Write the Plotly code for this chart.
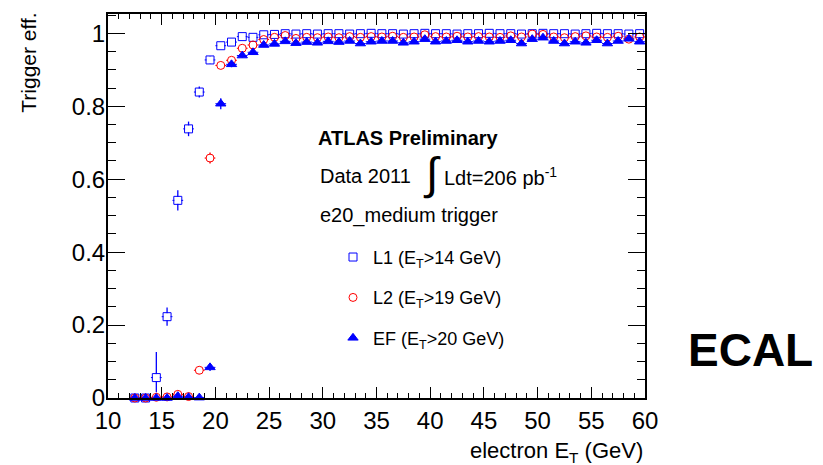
import plotly.graph_objects as go

# ---- data ----
et_bins = [12.5 + i for i in range(48)]  # 12.5 ... 59.5 GeV

l1_eff = [0.0, 0.0, 0.056, 0.223, 0.542, 0.738, 0.839, 0.927, 0.966, 0.976,
          0.991, 0.989, 0.996,
          0.997, 0.999, 0.998, 0.999, 0.998, 0.999, 0.999, 0.998, 0.999, 1.0,
          0.999, 0.999, 0.998, 0.999, 1.0, 0.999, 0.999, 0.998, 0.999, 0.999,
          1.0, 0.999, 0.999, 0.998, 0.999, 1.0, 0.999, 0.999, 0.998, 0.999,
          1.0, 0.999, 0.999, 0.998, 0.999]
l1_err_up = [0.003, 0.003, 0.070, 0.025, 0.028, 0.020, 0.015, 0.010, 0.006, 0.005,
             0.004, 0.004, 0.003] + [0.002] * 35
l1_err_dn = [0.0, 0.0, 0.040, 0.025, 0.028, 0.020, 0.015, 0.010, 0.006, 0.005,
             0.004, 0.004, 0.003] + [0.002] * 35

l2_eff = [0.0, 0.0, 0.002, 0.003, 0.010, 0.004, 0.076, 0.658, 0.912, 0.926,
          0.959, 0.968, 0.983, 0.989, 0.994,
          0.986, 0.989, 0.988, 0.990, 0.988, 0.991,
          0.989, 0.991, 0.990, 0.992, 0.989, 0.990, 0.996, 0.991, 0.990, 0.992,
          0.990, 0.991, 0.990, 0.989, 0.993, 0.990, 0.998, 0.997, 0.990, 0.988,
          0.991, 0.993, 0.990, 0.989, 0.992, 0.984, 0.990]
l2_err = [0.003, 0.003, 0.003, 0.003, 0.005, 0.004, 0.010, 0.015, 0.008, 0.008,
          0.006, 0.005, 0.004, 0.004, 0.003] + [0.003] * 33

ef_eff = [0.0, 0.0, 0.0, 0.0, 0.005, 0.002, 0.001, 0.084, 0.807, 0.915,
          0.939, 0.948, 0.968, 0.971, 0.978,
          0.973, 0.976, 0.974, 0.978, 0.976, 0.979,
          0.972, 0.977, 0.979, 0.979, 0.974, 0.977, 0.984, 0.977, 0.979, 0.981,
          0.977, 0.979, 0.977, 0.979, 0.981, 0.972, 0.984, 0.988, 0.979, 0.972,
          0.977, 0.974, 0.981, 0.972, 0.979, 0.985, 0.977]
ef_err = [0.003, 0.003, 0.003, 0.003, 0.004, 0.003, 0.003, 0.010, 0.015, 0.008,
          0.006, 0.006, 0.005, 0.004, 0.004] + [0.004] * 33

bin_half = [0.5] * 48

x_range = [10, 60]
y_range = [0, 1.053]

# ---- layout geometry (pixels) ----
W, H = 823, 465
ML, MR, MT, MB = 108, 178, 12, 67
PW = W - ML - MR
PH = H - MT - MB


def px(x):
    return (x - ML) / PW


def py(y):
    return (H - MB - y) / PH


FONT = "Liberation Sans, Arial, sans-serif"
BLUE = "#0000ff"
RED = "#ff0000"

series = [
    dict(name="L1 (E<sub>T</sub>>14 GeV)", y=l1_eff, up=l1_err_up, dn=l1_err_dn,
         open_sym="square-open", fill_sym="square", color=BLUE, size=8, g="a"),
    dict(name="L2 (E<sub>T</sub>>19 GeV)", y=l2_eff, up=l2_err, dn=l2_err,
         open_sym="circle-open", fill_sym="circle", color=RED, size=8, g="b"),
    dict(name="EF (E<sub>T</sub>>20 GeV)", y=ef_eff, up=ef_err, dn=ef_err,
         open_sym="triangle-up", fill_sym=None, color=BLUE, size=9, g="c"),
]

fig = go.Figure()

# layer 1: error bars only
for s in series:
    fig.add_trace(go.Scatter(
        x=et_bins, y=s["y"], mode="markers", showlegend=False,
        hoverinfo="skip", cliponaxis=False,
        marker=dict(size=1, color="rgba(0,0,0,0)"),
        error_x=dict(type="data", array=bin_half, color=s["color"],
                     thickness=1, width=0),
        error_y=dict(type="data", array=s["up"], arrayminus=s["dn"],
                     symmetric=False, color=s["color"], thickness=1.3, width=0),
    ))

# layer 2: white masks so error lines do not cross hollow markers
for s in series:
    if s["fill_sym"] is None:
        continue
    fig.add_trace(go.Scatter(
        x=et_bins, y=s["y"], mode="markers", showlegend=False,
        hoverinfo="skip", cliponaxis=False,
        marker=dict(symbol=s["fill_sym"], color="white", size=s["size"] - 1,
                    line=dict(width=0)),
    ))

# layer 3: visible markers (with legend)
for s in series:
    fig.add_trace(go.Scatter(
        x=et_bins, y=s["y"], mode="markers", name=s["name"],
        legendgroup=s["g"], cliponaxis=False,
        marker=dict(symbol=s["open_sym"], color=s["color"], size=s["size"],
                    line=dict(color=s["color"], width=1)),
    ))

axis_common = dict(
    showgrid=False, zeroline=False, showline=True, linewidth=2,
    linecolor="black", mirror="ticks", ticks="inside", tickcolor="black",
    tickwidth=1, tickfont=dict(family=FONT, size=24, color="black"),
)

fig.update_xaxes(range=x_range, dtick=5, tick0=10, ticklen=11,
                 minor=dict(dtick=1, ticklen=5, ticks="inside",
                            tickcolor="black", tickwidth=1),
                 **axis_common)
fig.update_yaxes(range=y_range, dtick=0.2, tick0=0, ticklen=17,
                 ticklabelstandoff=-4,
                 minor=dict(dtick=0.05, ticklen=8, ticks="inside",
                            tickcolor="black", tickwidth=1),
                 **axis_common)

ann = []


def text(x, y, s, size, xanchor="left", yanchor="middle", angle=0):
    ann.append(dict(
        x=px(x), y=py(y), xref="paper", yref="paper", text=s,
        showarrow=False, xanchor=xanchor, yanchor=yanchor, textangle=angle,
        font=dict(family=FONT, size=size, color="black"),
    ))


text(316, 137, "<b>ATLAS Preliminary</b>", 20)
text(318, 175, "Data 2011", 20)
text(421, 172, "∫", 45)
text(442, 175, "Ldt=206 pb<sup>-1</sup>", 20)
text(318, 215, "e20_medium trigger", 20)
text(750, 350, "<b>ECAL</b>", 46, xanchor="center")
text(645, 452, "electron E<sub>T</sub> (GeV)", 22, xanchor="right")
text(29, 61, "Trigger eff.", 21, xanchor="center", angle=-90)

fig.update_layout(
    width=W, height=H,
    margin=dict(l=ML, r=MR, t=MT, b=MB),
    paper_bgcolor="white", plot_bgcolor="white",
    font=dict(family=FONT, color="black"),
    annotations=ann,
    showlegend=True,
    legend=dict(x=px(333), y=py(238), xanchor="left", yanchor="top",
                bgcolor="rgba(0,0,0,0)", font=dict(family=FONT, size=18),
                tracegroupgap=14, itemwidth=30),
)

fig.write_html("out.html")
